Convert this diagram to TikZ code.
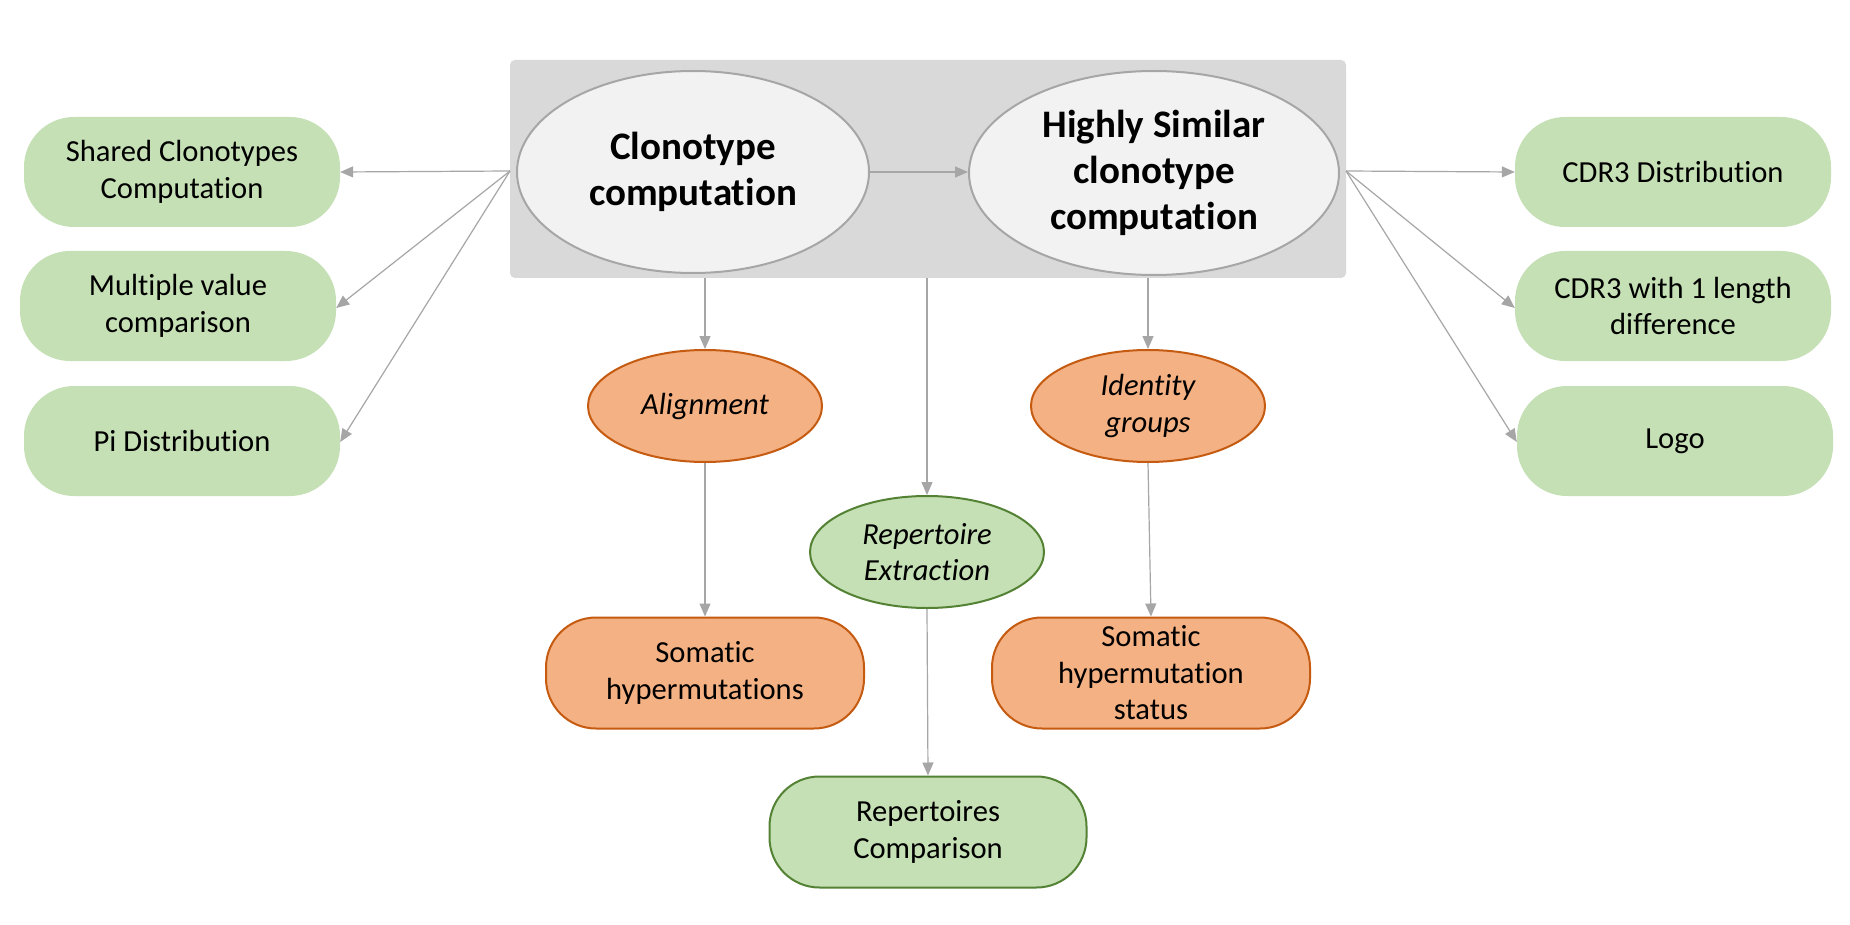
\documentclass[tikz,border=0pt]{standalone}
\usepackage{fontspec}
\setmainfont{Carlito}[Ligatures=NoCommon]
\usetikzlibrary{shapes.geometric,arrows.meta}
\definecolor{boxgray}{HTML}{D9D9D9}
\definecolor{ellgray}{HTML}{F2F2F2}
\definecolor{linegray}{HTML}{A6A6A6}
\definecolor{pgreen}{HTML}{C5E0B4}
\definecolor{dgreen}{HTML}{548235}
\definecolor{porange}{HTML}{F4B183}
\definecolor{dorange}{HTML}{C55A11}
\begin{document}
\begin{tikzpicture}[x=1pt,y=-1pt,
  txt/.style={font=\fontsize{30.6}{36.5}\selectfont, align=center, text=black},
  bigtxt/.style={font=\fontsize{39}{46}\selectfont\bfseries, align=center, text=black},
  mainell/.style={ellipse, draw=linegray, line width=2pt, fill=ellgray, inner sep=0pt, bigtxt},
  greenpill/.style={rectangle, rounded corners=50pt, fill=pgreen, minimum width=316pt, minimum height=110pt, inner sep=0pt, txt},
  orangepill/.style={rectangle, rounded corners=50pt, fill=porange, draw=dorange, line width=2pt, minimum width=318pt, minimum height=111pt, inner sep=0pt, txt},
  greenpillb/.style={greenpill, draw=dgreen, line width=2pt, minimum width=317pt, minimum height=111pt},
  orangeell/.style={ellipse, fill=porange, draw=dorange, line width=2pt, minimum width=234pt, minimum height=112pt, inner sep=0pt, txt, font=\fontsize{30.6}{36.5}\selectfont\itshape},
  greenell/.style={orangeell, fill=pgreen, draw=dgreen},
  conn/.style={draw=linegray, line width=1.2pt, -{Triangle[length=13pt,width=11pt]}, color=linegray}
]
\useasboundingbox (0,0) rectangle (1850,925);
\fill[white] (0,0) rectangle (1850,925);

% group box
\node[rectangle, rounded corners=5pt, fill=boxgray, minimum width=836pt, minimum height=218pt, inner sep=0pt] (grp) at (928,169) {};

\node[mainell, minimum width=352pt, minimum height=202pt] (clono) at (693,172) {Clonotype\\computation};
\node[mainell, minimum width=370pt, minimum height=204pt] (hsim) at (1154,173) {Highly Similar\\clonotype\\computation};

% left boxes
\node[greenpill] (shared) at (182,172) {Shared Clonotypes\\Computation};
\node[greenpill] (multi) at (178,306) {Multiple value\\comparison};
\node[greenpill] (pidist) at (182,441) {Pi Distribution};

% right boxes
\node[greenpill] (cdrd) at (1673,172) {CDR3 Distribution};
\node[greenpill] (cdrl) at (1673,306) {CDR3 with 1 length\\difference};
\node[greenpill] (logo) at (1675,441) {Logo};

% lower nodes
\node[orangeell] (align) at (705,406) {Alignment};
\node[orangeell] (ident) at (1148,406) {Identity\\groups};
\node[greenell] (rext) at (927,552) {Repertoire\\Extraction};
\node[orangepill] (shm) at (705,673) {Somatic\\hypermutations};
\node[orangepill] (shms) at (1151,673) {Somatic\\hypermutation\\status};
\node[greenpillb] (rcomp) at (928,832) {Repertoires\\Comparison};

\coordinate (lsrc) at (510,171);
\coordinate (rsrc) at (1346,171);

\draw[conn] (clono) -- (hsim.west |- clono.east);
\draw[conn] (lsrc) -- (shared.east);
\draw[conn] (lsrc) -- ([yshift=-2pt]multi.east);
\draw[conn] (lsrc) -- ([yshift=-1pt]pidist.east);
\draw[conn] (rsrc) -- (cdrd.west);
\draw[conn] (rsrc) -- ([yshift=-2pt]cdrl.west);
\draw[conn] (rsrc) -- ([yshift=-1pt]logo.west);

\draw[conn] (grp.south -| align.north) -- (align.north);
\draw[conn] (grp.south -| ident.north) -- (ident.north);
\draw[conn] (grp.south -| rext.north) -- (rext.north);
\draw[conn] (align.south) -- (shm.north);
\draw[conn] (ident.south) -- (shms.north);
\draw[conn] (rext.south) -- (rcomp.north);
\end{tikzpicture}
\end{document}
